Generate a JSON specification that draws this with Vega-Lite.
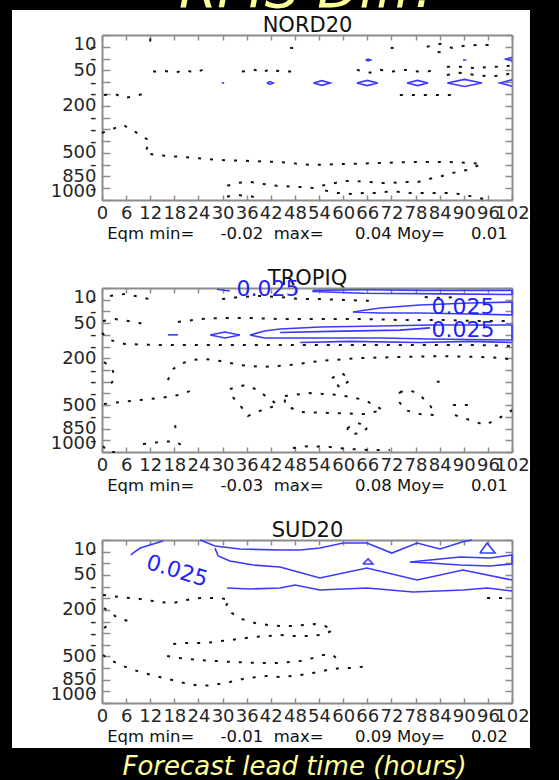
{
  "$schema": "https://vega.github.io/schema/vega-lite/v6.json",
  "width": 518,
  "height": 738,
  "autosize": {"type": "none"},
  "padding": {"left": 12, "top": 10, "right": 29, "bottom": 32},
  "background": "#000000",
  "view": {"fill": "#ffffff", "stroke": null},
  "datasets": {
    "iso": [
      {"p":"N","c":"n1","k":"d","h":12,"l":0.3},{"p":"N","c":"n1","k":"d","h":12,"l":0.8},{"p":"N","c":"n1","k":"d","h":12.3,"l":1.2},
      {"p":"N","c":"n2","k":"d","h":80.8,"l":1.0},{"p":"N","c":"n2","k":"d","h":84.1,"l":0.75},{"p":"N","c":"n2","k":"d","h":87.1,"l":1.1},{"p":"N","c":"n2","k":"d","h":90.3,"l":0.9},{"p":"N","c":"n2","k":"d","h":93.5,"l":0.85},{"p":"N","c":"n2","k":"d","h":96.5,"l":0.85},
      {"p":"N","c":"n2b","k":"d","h":83.5,"l":1.45},{"p":"N","c":"n2b","k":"d","h":86.5,"l":1.5},
      {"p":"N","c":"n3","k":"d","h":46.8,"l":1.1},{"p":"N","c":"n3","k":"d","h":48.6,"l":1.1},
      {"p":"N","c":"n4","k":"d","h":71.8,"l":1.1},{"p":"N","c":"n4","k":"d","h":73.8,"l":1.1},
      {"p":"N","c":"n5","k":"d","h":12.7,"l":3.1},{"p":"N","c":"n5","k":"d","h":15.7,"l":3.05},{"p":"N","c":"n5","k":"d","h":18.2,"l":3.2},{"p":"N","c":"n5","k":"d","h":20.6,"l":2.96},{"p":"N","c":"n5","k":"d","h":23.1,"l":3.2},{"p":"N","c":"n5","k":"d","h":25.6,"l":2.88},{"p":"N","c":"n5","k":"d","h":26.9,"l":3.1},
      {"p":"N","c":"n6","k":"d","h":34.8,"l":3.1},{"p":"N","c":"n6","k":"d","h":38,"l":2.96},{"p":"N","c":"n6","k":"d","h":39.8,"l":3.2},{"p":"N","c":"n6","k":"d","h":41.8,"l":2.88},{"p":"N","c":"n6","k":"d","h":44.3,"l":3.1},{"p":"N","c":"n6","k":"d","h":47.5,"l":3.1},
      {"p":"N","c":"n7","k":"d","h":63.4,"l":2.96},{"p":"N","c":"n7","k":"d","h":66.7,"l":3.2},{"p":"N","c":"n7","k":"d","h":69.2,"l":2.96},{"p":"N","c":"n7","k":"d","h":72.1,"l":3.1},{"p":"N","c":"n7","k":"d","h":75.4,"l":2.96},{"p":"N","c":"n7","k":"d","h":78.6,"l":3.1},{"p":"N","c":"n7","k":"d","h":82.3,"l":3.05},
      {"p":"N","c":"n8","k":"d","h":85.8,"l":2.7},{"p":"N","c":"n8","k":"d","h":89.1,"l":2.7},{"p":"N","c":"n8","k":"d","h":92.8,"l":2.8},{"p":"N","c":"n8","k":"d","h":96.5,"l":2.7},{"p":"N","c":"n8","k":"d","h":100.2,"l":2.7},{"p":"N","c":"n8","k":"d","h":102,"l":2.55},
      {"p":"N","c":"n9","k":"d","h":85.8,"l":3.4},{"p":"N","c":"n9","k":"d","h":89.1,"l":3.2},{"p":"N","c":"n9","k":"d","h":92.8,"l":3.4},{"p":"N","c":"n9","k":"d","h":96.5,"l":3.5},{"p":"N","c":"n9","k":"d","h":100.2,"l":3.4},{"p":"N","c":"n9","k":"d","h":102,"l":3.2},
      {"p":"N","c":"n10","k":"d","h":74.1,"l":5.1},{"p":"N","c":"n10","k":"d","h":77.4,"l":5.1},{"p":"N","c":"n10","k":"d","h":80.3,"l":5.1},{"p":"N","c":"n10","k":"d","h":84.1,"l":5.1},{"p":"N","c":"n10","k":"d","h":87.3,"l":5.1},
      {"p":"N","c":"n11","k":"d","h":0.5,"l":5.1},{"p":"N","c":"n11","k":"d","h":3.2,"l":5.0},{"p":"N","c":"n11","k":"d","h":5.7,"l":5.35},{"p":"N","c":"n11","k":"d","h":7.7,"l":5.2},{"p":"N","c":"n11","k":"d","h":10.2,"l":5.0},
      {"p":"N","c":"n12","k":"d","h":0,"l":8.31},{"p":"N","c":"n12","k":"d","h":2,"l":8.06},{"p":"N","c":"n12","k":"d","h":5.2,"l":7.63},{"p":"N","c":"n12","k":"d","h":7.5,"l":8.06},{"p":"N","c":"n12","k":"d","h":9.5,"l":8.48},{"p":"N","c":"n12","k":"d","h":11.9,"l":8.99},{"p":"N","c":"n12","k":"d","h":11.2,"l":9.58},{"p":"N","c":"n12","k":"d","h":10.7,"l":10.0},{"p":"N","c":"n12","k":"d","h":13.2,"l":10.18},{"p":"N","c":"n12","k":"d","h":16.4,"l":10.26},{"p":"N","c":"n12","k":"d","h":19.9,"l":10.35},{"p":"N","c":"n12","k":"d","h":28.6,"l":10.6},{"p":"N","c":"n12","k":"d","h":36.8,"l":10.69},{"p":"N","c":"n12","k":"d","h":43.5,"l":10.77},{"p":"N","c":"n12","k":"d","h":52.5,"l":11.03},{"p":"N","c":"n12","k":"d","h":60.9,"l":10.94},{"p":"N","c":"n12","k":"d","h":69.2,"l":10.86},{"p":"N","c":"n12","k":"d","h":77.4,"l":10.77},{"p":"N","c":"n12","k":"d","h":85.8,"l":10.77},{"p":"N","c":"n12","k":"d","h":91.5,"l":10.86},{"p":"N","c":"n12","k":"d","h":94.5,"l":10.94},{"p":"N","c":"n12","k":"d","h":90.8,"l":11.45},{"p":"N","c":"n12","k":"d","h":87.3,"l":11.7},{"p":"N","c":"n12","k":"d","h":84.6,"l":11.96},{"p":"N","c":"n12","k":"d","h":81.6,"l":12.2},{"p":"N","c":"n12","k":"d","h":78.6,"l":12.47},{"p":"N","c":"n12","k":"d","h":75.4,"l":12.47},{"p":"N","c":"n12","k":"d","h":72.1,"l":12.55},{"p":"N","c":"n12","k":"d","h":69.2,"l":12.55},{"p":"N","c":"n12","k":"d","h":66.2,"l":12.47},{"p":"N","c":"n12","k":"d","h":62.9,"l":12.38},{"p":"N","c":"n12","k":"d","h":60.4,"l":12.38},{"p":"N","c":"n12","k":"d","h":58,"l":12.55},{"p":"N","c":"n12","k":"d","h":55.5,"l":12.72},{"p":"N","c":"n12","k":"d","h":52.5,"l":12.98},{"p":"N","c":"n12","k":"d","h":49.3,"l":12.9},{"p":"N","c":"n12","k":"d","h":43.5,"l":12.8},{"p":"N","c":"n12","k":"d","h":40,"l":12.64},{"p":"N","c":"n12","k":"d","h":36.8,"l":12.47},{"p":"N","c":"n12","k":"d","h":33.6,"l":12.55},{"p":"N","c":"n12","k":"d","h":31.1,"l":12.8},{"p":"N","c":"n12","k":"d","h":30.1,"l":13.2},
      {"p":"N","c":"n13","k":"d","h":31.1,"l":13.7},{"p":"N","c":"n13","k":"d","h":34.3,"l":13.6},{"p":"N","c":"n13","k":"d","h":37.3,"l":13.7},{"p":"N","c":"n13","k":"d","h":39.8,"l":14.0},
      {"p":"N","c":"n14","k":"d","h":55.5,"l":13.2},{"p":"N","c":"n14","k":"d","h":58.7,"l":13.4},{"p":"N","c":"n14","k":"d","h":62.2,"l":13.5},{"p":"N","c":"n14","k":"d","h":64.9,"l":13.4},{"p":"N","c":"n14","k":"d","h":67.9,"l":13.4},{"p":"N","c":"n14","k":"d","h":70.9,"l":13.3},{"p":"N","c":"n14","k":"d","h":73.6,"l":13.3},{"p":"N","c":"n14","k":"d","h":76.6,"l":13.4},{"p":"N","c":"n14","k":"d","h":79.6,"l":13.4},{"p":"N","c":"n14","k":"d","h":82.8,"l":13.4},{"p":"N","c":"n14","k":"d","h":85.8,"l":13.4},{"p":"N","c":"n14","k":"d","h":89.1,"l":13.5},{"p":"N","c":"n14","k":"d","h":92,"l":13.7},{"p":"N","c":"n14","k":"d","h":94.8,"l":13.9},{"p":"N","c":"n14","k":"d","h":97,"l":14},

      {"p":"N","c":"e1","k":"b","h":52.6,"l":4.07},{"p":"N","c":"e1","k":"b","h":54.7,"l":3.87},{"p":"N","c":"e1","k":"b","h":56.8,"l":4.07},{"p":"N","c":"e1","k":"b","h":54.7,"l":4.27},{"p":"N","c":"e1","k":"b","h":52.6,"l":4.07},
      {"p":"N","c":"e2","k":"b","h":63.4,"l":4.07},{"p":"N","c":"e2","k":"b","h":66,"l":3.85},{"p":"N","c":"e2","k":"b","h":68.6,"l":4.07},{"p":"N","c":"e2","k":"b","h":66,"l":4.29},{"p":"N","c":"e2","k":"b","h":63.4,"l":4.07},
      {"p":"N","c":"e3","k":"b","h":75.9,"l":4.07},{"p":"N","c":"e3","k":"b","h":78.5,"l":3.85},{"p":"N","c":"e3","k":"b","h":81.1,"l":4.07},{"p":"N","c":"e3","k":"b","h":78.5,"l":4.29},{"p":"N","c":"e3","k":"b","h":75.9,"l":4.07},
      {"p":"N","c":"e4","k":"b","h":85.9,"l":4.07},{"p":"N","c":"e4","k":"b","h":90.2,"l":3.77},{"p":"N","c":"e4","k":"b","h":94.5,"l":4.07},{"p":"N","c":"e4","k":"b","h":90.2,"l":4.37},{"p":"N","c":"e4","k":"b","h":85.9,"l":4.07},
      {"p":"N","c":"e5","k":"b","h":102,"l":3.8},{"p":"N","c":"e5","k":"b","h":99,"l":4.07},{"p":"N","c":"e5","k":"b","h":102,"l":4.34},
      {"p":"N","c":"e6","k":"b","h":41,"l":4.07},{"p":"N","c":"e6","k":"b","h":41.8,"l":3.95},{"p":"N","c":"e6","k":"b","h":42.6,"l":4.07},{"p":"N","c":"e6","k":"b","h":41.8,"l":4.19},{"p":"N","c":"e6","k":"b","h":41,"l":4.07},
      {"p":"N","c":"e7","k":"b","h":29.8,"l":4.07},{"p":"N","c":"e7","k":"b","h":30.4,"l":4.07},
      {"p":"N","c":"e8","k":"b","h":65.6,"l":2.12},{"p":"N","c":"e8","k":"b","h":66.2,"l":2.05},{"p":"N","c":"e8","k":"b","h":66.8,"l":2.12},{"p":"N","c":"e8","k":"b","h":66.2,"l":2.19},{"p":"N","c":"e8","k":"b","h":65.6,"l":2.12},
      {"p":"N","c":"e9","k":"b","h":89.8,"l":2.12},{"p":"N","c":"e9","k":"b","h":90.6,"l":2.12},
      {"p":"N","c":"e10","k":"b","h":102,"l":1.9},{"p":"N","c":"e10","k":"b","h":100.5,"l":2.04},{"p":"N","c":"e10","k":"b","h":102,"l":2.2},

      {"p":"T","c":"t0","k":"b","h":28.6,"l":0.1},{"p":"T","c":"t0","k":"b","h":31.8,"l":0.25},
      {"p":"T","c":"t1","k":"b","h":52.5,"l":0.2},{"p":"T","c":"t1","k":"b","h":65,"l":0.15},{"p":"T","c":"t1","k":"b","h":80,"l":0.2},{"p":"T","c":"t1","k":"b","h":102,"l":0.2},{"p":"T","c":"t1","k":"b","h":102,"l":0.55},{"p":"T","c":"t1","k":"b","h":85,"l":0.5},{"p":"T","c":"t1","k":"b","h":65,"l":0.45},{"p":"T","c":"t1","k":"b","h":52.5,"l":0.3},{"p":"T","c":"t1","k":"b","h":52.5,"l":0.2},
      {"p":"T","c":"t2","k":"b","h":62.4,"l":2.05},{"p":"T","c":"t2","k":"b","h":69.2,"l":1.71},{"p":"T","c":"t2","k":"b","h":79.1,"l":1.45},{"p":"T","c":"t2","k":"b","h":91.5,"l":1.28},{"p":"T","c":"t2","k":"b","h":102,"l":1.2},{"p":"T","c":"t2","k":"b","h":102,"l":2.3},{"p":"T","c":"t2","k":"b","h":91.5,"l":2.22},{"p":"T","c":"t2","k":"b","h":79.1,"l":2.13},{"p":"T","c":"t2","k":"b","h":69.2,"l":2.13},{"p":"T","c":"t2","k":"b","h":62.4,"l":2.05},
      {"p":"T","c":"t3","k":"b","h":16.4,"l":4.0},{"p":"T","c":"t3","k":"b","h":18.9,"l":4.0},
      {"p":"T","c":"t4","k":"b","h":26.9,"l":4.01},{"p":"T","c":"t4","k":"b","h":30.6,"l":3.76},{"p":"T","c":"t4","k":"b","h":34.3,"l":4.01},{"p":"T","c":"t4","k":"b","h":30.6,"l":4.27},{"p":"T","c":"t4","k":"b","h":26.9,"l":4.01},
      {"p":"T","c":"t5","k":"b","h":36.8,"l":4.01},{"p":"T","c":"t5","k":"b","h":40.5,"l":3.67},{"p":"T","c":"t5","k":"b","h":44.3,"l":3.5},{"p":"T","c":"t5","k":"b","h":54.2,"l":3.33},{"p":"T","c":"t5","k":"b","h":69.2,"l":3.25},{"p":"T","c":"t5","k":"b","h":81.6,"l":3.16},{"p":"T","c":"t5","k":"b","h":102,"l":3.16},{"p":"T","c":"t5","k":"b","h":102,"l":4.44},{"p":"T","c":"t5","k":"b","h":81.6,"l":4.36},{"p":"T","c":"t5","k":"b","h":69.2,"l":4.27},{"p":"T","c":"t5","k":"b","h":54.2,"l":4.27},{"p":"T","c":"t5","k":"b","h":44.3,"l":4.27},{"p":"T","c":"t5","k":"b","h":40.5,"l":4.27},{"p":"T","c":"t5","k":"b","h":36.8,"l":4.01},
      {"p":"T","c":"t6","k":"b","h":49.3,"l":4.65},{"p":"T","c":"t6","k":"b","h":61.7,"l":4.56},{"p":"T","c":"t6","k":"b","h":79.1,"l":4.65},{"p":"T","c":"t6","k":"b","h":91.5,"l":4.56},{"p":"T","c":"t6","k":"b","h":102,"l":4.65},
      {"p":"T","c":"t7","k":"b","h":44.3,"l":3.8},{"p":"T","c":"t7","k":"b","h":56.7,"l":3.7},{"p":"T","c":"t7","k":"b","h":74.1,"l":3.6},{"p":"T","c":"t7","k":"b","h":81.6,"l":3.4},

      {"p":"T","c":"d1","k":"d","h":2,"l":0.68},{"p":"T","c":"d1","k":"d","h":5.7,"l":0.51},{"p":"T","c":"d1","k":"d","h":9.5,"l":0.77},{"p":"T","c":"d1","k":"d","h":12.7,"l":1.02},
      {"p":"T","c":"d2","k":"d","h":29.9,"l":0.94},{"p":"T","c":"d2","k":"d","h":34.3,"l":0.77},{"p":"T","c":"d2","k":"d","h":39.3,"l":0.68},{"p":"T","c":"d2","k":"d","h":44.3,"l":0.77},{"p":"T","c":"d2","k":"d","h":49.3,"l":0.94},{"p":"T","c":"d2","k":"d","h":54.2,"l":0.94},{"p":"T","c":"d2","k":"d","h":60.4,"l":1.02},{"p":"T","c":"d2","k":"d","h":67.4,"l":1.11},
      {"p":"T","c":"d2b","k":"d","h":80.3,"l":0.77},{"p":"T","c":"d2b","k":"d","h":84.1,"l":0.85},{"p":"T","c":"d2b","k":"d","h":87.8,"l":0.77},
      {"p":"T","c":"d3a","k":"d","h":0.25,"l":2.82},{"p":"T","c":"d3a","k":"d","h":3.2,"l":2.65},{"p":"T","c":"d3a","k":"d","h":6.5,"l":2.82},{"p":"T","c":"d3a","k":"d","h":9.5,"l":3.0},{"p":"T","c":"d3a","k":"d","h":11.9,"l":3.25},
      {"p":"T","c":"d3b","k":"d","h":18.9,"l":2.9},{"p":"T","c":"d3b","k":"d","h":24.4,"l":2.65},{"p":"T","c":"d3b","k":"d","h":29.4,"l":2.56},{"p":"T","c":"d3b","k":"d","h":36.8,"l":2.56},{"p":"T","c":"d3b","k":"d","h":44.3,"l":2.65},{"p":"T","c":"d3b","k":"d","h":54.2,"l":2.65},{"p":"T","c":"d3b","k":"d","h":64.2,"l":2.65},{"p":"T","c":"d3b","k":"d","h":74.1,"l":2.73},{"p":"T","c":"d3b","k":"d","h":84.1,"l":2.73},{"p":"T","c":"d3b","k":"d","h":94,"l":2.82},{"p":"T","c":"d3b","k":"d","h":102,"l":2.82},
      {"p":"T","c":"d4","k":"d","h":0,"l":3.84},{"p":"T","c":"d4","k":"d","h":2,"l":4.44},{"p":"T","c":"d4","k":"d","h":5.7,"l":4.78},{"p":"T","c":"d4","k":"d","h":14.4,"l":4.87},{"p":"T","c":"d4","k":"d","h":24.4,"l":4.87},{"p":"T","c":"d4","k":"d","h":34.3,"l":4.87},{"p":"T","c":"d4","k":"d","h":44.3,"l":4.87},{"p":"T","c":"d4","k":"d","h":54.2,"l":4.87},{"p":"T","c":"d4","k":"d","h":64.2,"l":4.87},{"p":"T","c":"d4","k":"d","h":74.1,"l":4.87},{"p":"T","c":"d4","k":"d","h":84.1,"l":4.87},{"p":"T","c":"d4","k":"d","h":94,"l":4.87},{"p":"T","c":"d4","k":"d","h":102,"l":4.95},
      {"p":"T","c":"d5","k":"d","h":16.4,"l":7.86},{"p":"T","c":"d5","k":"d","h":17.4,"l":7.0},{"p":"T","c":"d5","k":"d","h":19.4,"l":6.49},{"p":"T","c":"d5","k":"d","h":22.4,"l":6.15},{"p":"T","c":"d5","k":"d","h":25.6,"l":6.06},{"p":"T","c":"d5","k":"d","h":29.4,"l":6.23},{"p":"T","c":"d5","k":"d","h":34.3,"l":6.57},{"p":"T","c":"d5","k":"d","h":39.8,"l":6.75},{"p":"T","c":"d5","k":"d","h":46.8,"l":6.57},{"p":"T","c":"d5","k":"d","h":54.2,"l":6.23},{"p":"T","c":"d5","k":"d","h":64.2,"l":5.98},{"p":"T","c":"d5","k":"d","h":74.1,"l":5.89},{"p":"T","c":"d5","k":"d","h":84.1,"l":5.81},{"p":"T","c":"d5","k":"d","h":94,"l":5.89},{"p":"T","c":"d5","k":"d","h":100.2,"l":5.98},{"p":"T","c":"d5","k":"d","h":102,"l":6.23},
      {"p":"T","c":"d6","k":"d","h":0.5,"l":6.32},{"p":"T","c":"d6","k":"d","h":2.5,"l":6.83},{"p":"T","c":"d6","k":"d","h":3.2,"l":7.69},{"p":"T","c":"d6","k":"d","h":2,"l":8.28},
      {"p":"T","c":"d7","k":"d","h":0.5,"l":9.9},{"p":"T","c":"d7","k":"d","h":4.5,"l":9.74},{"p":"T","c":"d7","k":"d","h":9.5,"l":9.57},{"p":"T","c":"d7","k":"d","h":14.4,"l":9.39},{"p":"T","c":"d7","k":"d","h":18.9,"l":9.14},{"p":"T","c":"d7","k":"d","h":21.9,"l":8.8},
      {"p":"T","c":"d8","k":"d","h":31.8,"l":8.62},{"p":"T","c":"d8","k":"d","h":35.6,"l":8.28},{"p":"T","c":"d8","k":"d","h":38.8,"l":8.71},{"p":"T","c":"d8","k":"d","h":41.3,"l":9.39},{"p":"T","c":"d8","k":"d","h":43.8,"l":9.99},{"p":"T","c":"d8","k":"d","h":39.8,"l":10.42},{"p":"T","c":"d8","k":"d","h":36.3,"l":10.93},{"p":"T","c":"d8","k":"d","h":34.3,"l":9.99},{"p":"T","c":"d8","k":"d","h":32.3,"l":9.22},{"p":"T","c":"d8","k":"d","h":31.8,"l":8.62},
      {"p":"T","c":"d9","k":"d","h":45.5,"l":9.22},{"p":"T","c":"d9","k":"d","h":51.7,"l":8.97},{"p":"T","c":"d9","k":"d","h":59.2,"l":9.14},{"p":"T","c":"d9","k":"d","h":65.4,"l":9.56},{"p":"T","c":"d9","k":"d","h":69.9,"l":10.42},{"p":"T","c":"d9","k":"d","h":65.4,"l":10.76},{"p":"T","c":"d9","k":"d","h":56.7,"l":10.67},{"p":"T","c":"d9","k":"d","h":49.3,"l":10.59},{"p":"T","c":"d9","k":"d","h":45.5,"l":9.99},{"p":"T","c":"d9","k":"d","h":45.5,"l":9.22},
      {"p":"T","c":"d10","k":"d","h":57.2,"l":7.69},{"p":"T","c":"d10","k":"d","h":59.7,"l":7.26},{"p":"T","c":"d10","k":"d","h":61.7,"l":7.86},{"p":"T","c":"d10","k":"d","h":59.2,"l":8.54},{"p":"T","c":"d10","k":"d","h":57.2,"l":7.69},
      {"p":"T","c":"d11","k":"d","h":74.1,"l":8.88},{"p":"T","c":"d11","k":"d","h":76.6,"l":8.71},{"p":"T","c":"d11","k":"d","h":79.1,"l":9.14},{"p":"T","c":"d11","k":"d","h":81.6,"l":9.99},{"p":"T","c":"d11","k":"d","h":82.8,"l":10.85},{"p":"T","c":"d11","k":"d","h":79.1,"l":10.76},{"p":"T","c":"d11","k":"d","h":75.4,"l":10.42},{"p":"T","c":"d11","k":"d","h":73.6,"l":9.56},{"p":"T","c":"d11","k":"d","h":74.1,"l":8.88},
      {"p":"T","c":"d12","k":"d","h":83.3,"l":8.0},{"p":"T","c":"d12","k":"d","h":84,"l":8.0},
      {"p":"T","c":"d13","k":"d","h":87.3,"l":9.99},{"p":"T","c":"d13","k":"d","h":91,"l":9.99},
      {"p":"T","c":"d14","k":"d","h":87.8,"l":10.85},{"p":"T","c":"d14","k":"d","h":91.5,"l":11.27},{"p":"T","c":"d14","k":"d","h":95.3,"l":11.7},{"p":"T","c":"d14","k":"d","h":97.8,"l":11.27},{"p":"T","c":"d14","k":"d","h":100.2,"l":10.85},{"p":"T","c":"d14","k":"d","h":102,"l":10.42},
      {"p":"T","c":"d15","k":"d","h":10.2,"l":13.32},{"p":"T","c":"d15","k":"d","h":14.4,"l":13.15},{"p":"T","c":"d15","k":"d","h":18.2,"l":13.07},{"p":"T","c":"d15","k":"d","h":20.1,"l":13.49},
      {"p":"T","c":"d16","k":"d","h":18.2,"l":11.7},{"p":"T","c":"d16","k":"d","h":18.4,"l":12.3},
      {"p":"T","c":"d17","k":"d","h":47.5,"l":13.66},{"p":"T","c":"d17","k":"d","h":51.7,"l":13.49},{"p":"T","c":"d17","k":"d","h":56.7,"l":13.58},{"p":"T","c":"d17","k":"d","h":61.7,"l":13.75},{"p":"T","c":"d17","k":"d","h":66.7,"l":13.83},{"p":"T","c":"d17","k":"d","h":71.6,"l":13.83},
      {"p":"T","c":"d18","k":"d","h":61,"l":11.96},{"p":"T","c":"d18","k":"d","h":63.7,"l":11.53},{"p":"T","c":"d18","k":"d","h":66.2,"l":11.87},{"p":"T","c":"d18","k":"d","h":64.7,"l":12.38},{"p":"T","c":"d18","k":"d","h":61.7,"l":12.47},{"p":"T","c":"d18","k":"d","h":61,"l":11.96},
      {"p":"T","c":"d19","k":"d","h":0.25,"l":13.49},{"p":"T","c":"d19","k":"d","h":1.5,"l":14},{"p":"T","c":"d19","k":"d","h":3.2,"l":14},

      {"p":"S","c":"s1","k":"b","h":7.2,"l":1.3},{"p":"S","c":"s1","k":"b","h":7.7,"l":1.12},{"p":"S","c":"s1","k":"b","h":9.5,"l":0.69},{"p":"S","c":"s1","k":"b","h":11.9,"l":0.43},{"p":"S","c":"s1","k":"b","h":15.2,"l":0.09},
      {"p":"S","c":"s2","k":"b","h":24.4,"l":0},{"p":"S","c":"s2","k":"b","h":28.1,"l":0.52},{"p":"S","c":"s2","k":"b","h":34.3,"l":0.77},{"p":"S","c":"s2","k":"b","h":44.3,"l":0.86},{"p":"S","c":"s2","k":"b","h":49.3,"l":0.86},{"p":"S","c":"s2","k":"b","h":54.2,"l":0.69},{"p":"S","c":"s2","k":"b","h":60,"l":0.26},{"p":"S","c":"s2","k":"b","h":65.9,"l":0.26},{"p":"S","c":"s2","k":"b","h":72.1,"l":1.12},{"p":"S","c":"s2","k":"b","h":78.4,"l":0.26},{"p":"S","c":"s2","k":"b","h":84.1,"l":0.77},{"p":"S","c":"s2","k":"b","h":89.6,"l":0.17},{"p":"S","c":"s2","k":"b","h":92,"l":0},
      {"p":"S","c":"s3","k":"b","h":28.1,"l":0.7},{"p":"S","c":"s3","k":"b","h":28.9,"l":1.37},{"p":"S","c":"s3","k":"b","h":31.8,"l":1.8},{"p":"S","c":"s3","k":"b","h":37.6,"l":2.15},{"p":"S","c":"s3","k":"b","h":44.3,"l":2.32},{"p":"S","c":"s3","k":"b","h":54.2,"l":3.26},{"p":"S","c":"s3","k":"b","h":65.9,"l":2.41},{"p":"S","c":"s3","k":"b","h":78.4,"l":3.44},{"p":"S","c":"s3","k":"b","h":89.8,"l":2.58},{"p":"S","c":"s3","k":"b","h":102,"l":3.44},
      {"p":"S","c":"s4","k":"b","h":31.1,"l":4.12},{"p":"S","c":"s4","k":"b","h":36.8,"l":4.21},{"p":"S","c":"s4","k":"b","h":44.3,"l":4.12},{"p":"S","c":"s4","k":"b","h":48,"l":3.87},{"p":"S","c":"s4","k":"b","h":54.2,"l":4.3},{"p":"S","c":"s4","k":"b","h":65.9,"l":4.12},{"p":"S","c":"s4","k":"b","h":77.4,"l":4.47},{"p":"S","c":"s4","k":"b","h":89.8,"l":4.3},{"p":"S","c":"s4","k":"b","h":95.8,"l":4.12},{"p":"S","c":"s4","k":"b","h":102,"l":4.38},
      {"p":"S","c":"s5","k":"b","h":94,"l":1.12},{"p":"S","c":"s5","k":"b","h":95.8,"l":0.26},{"p":"S","c":"s5","k":"b","h":97.8,"l":1.12},{"p":"S","c":"s5","k":"b","h":94,"l":1.12},
      {"p":"S","c":"s6","k":"b","h":64.9,"l":2.06},{"p":"S","c":"s6","k":"b","h":66.2,"l":1.63},{"p":"S","c":"s6","k":"b","h":67.4,"l":2.06},{"p":"S","c":"s6","k":"b","h":64.9,"l":2.06},
      {"p":"S","c":"s7","k":"b","h":76.6,"l":1.89},{"p":"S","c":"s7","k":"b","h":81.6,"l":1.72},{"p":"S","c":"s7","k":"b","h":89.1,"l":1.46},{"p":"S","c":"s7","k":"b","h":96.5,"l":1.55},{"p":"S","c":"s7","k":"b","h":102,"l":1.29},{"p":"S","c":"s7","k":"b","h":102,"l":2.06},{"p":"S","c":"s7","k":"b","h":96.5,"l":2.23},{"p":"S","c":"s7","k":"b","h":89.1,"l":2.15},{"p":"S","c":"s7","k":"b","h":81.6,"l":1.98},{"p":"S","c":"s7","k":"b","h":76.6,"l":1.89},

      {"p":"S","c":"q1","k":"d","h":0.25,"l":4.72},{"p":"S","c":"q1","k":"d","h":4.5,"l":4.9},{"p":"S","c":"q1","k":"d","h":9.5,"l":5.07},{"p":"S","c":"q1","k":"d","h":14.4,"l":5.33},{"p":"S","c":"q1","k":"d","h":17.7,"l":5.41},{"p":"S","c":"q1","k":"d","h":21.1,"l":5.15},{"p":"S","c":"q1","k":"d","h":24.4,"l":4.98},{"p":"S","c":"q1","k":"d","h":29.4,"l":4.98},{"p":"S","c":"q1","k":"d","h":31.8,"l":5.15},{"p":"S","c":"q1","k":"d","h":30.8,"l":5.67},{"p":"S","c":"q1","k":"d","h":32.3,"l":6.27},{"p":"S","c":"q1","k":"d","h":34.8,"l":6.79},{"p":"S","c":"q1","k":"d","h":38.1,"l":7.13},{"p":"S","c":"q1","k":"d","h":41.3,"l":7.3},{"p":"S","c":"q1","k":"d","h":44.3,"l":7.39},{"p":"S","c":"q1","k":"d","h":47.3,"l":7.39},{"p":"S","c":"q1","k":"d","h":50.5,"l":7.3},{"p":"S","c":"q1","k":"d","h":53,"l":7.22},{"p":"S","c":"q1","k":"d","h":55.5,"l":7.39},{"p":"S","c":"q1","k":"d","h":57.5,"l":7.73},{"p":"S","c":"q1","k":"d","h":55.5,"l":8.08},{"p":"S","c":"q1","k":"d","h":52.2,"l":8.25},{"p":"S","c":"q1","k":"d","h":48,"l":8.25},{"p":"S","c":"q1","k":"d","h":44.3,"l":8.16},{"p":"S","c":"q1","k":"d","h":38.1,"l":8.33},{"p":"S","c":"q1","k":"d","h":31.8,"l":8.59},{"p":"S","c":"q1","k":"d","h":25.6,"l":8.85},{"p":"S","c":"q1","k":"d","h":20.6,"l":8.85},{"p":"S","c":"q1","k":"d","h":17.4,"l":8.93},{"p":"S","c":"q1","k":"d","h":16.2,"l":9.28},
      {"p":"S","c":"q2","k":"d","h":0.5,"l":5.84},{"p":"S","c":"q2","k":"d","h":2.5,"l":6.36},{"p":"S","c":"q2","k":"d","h":4,"l":6.7},{"p":"S","c":"q2","k":"d","h":6.5,"l":6.96},
      {"p":"S","c":"q2b","k":"d","h":0.5,"l":7.56},{"p":"S","c":"q2b","k":"d","h":2,"l":7.22},
      {"p":"S","c":"q4","k":"d","h":16.2,"l":9.97},{"p":"S","c":"q4","k":"d","h":19.4,"l":10.14},{"p":"S","c":"q4","k":"d","h":24.4,"l":10.31},{"p":"S","c":"q4","k":"d","h":32.6,"l":10.48},{"p":"S","c":"q4","k":"d","h":40,"l":10.57},{"p":"S","c":"q4","k":"d","h":44.3,"l":10.57},{"p":"S","c":"q4","k":"d","h":49.3,"l":10.39},{"p":"S","c":"q4","k":"d","h":52.5,"l":10.14},{"p":"S","c":"q4","k":"d","h":55,"l":9.88},{"p":"S","c":"q4","k":"d","h":57.5,"l":9.88},{"p":"S","c":"q4","k":"d","h":58.7,"l":10.31},
      {"p":"S","c":"q5","k":"d","h":0.25,"l":9.88},{"p":"S","c":"q5","k":"d","h":2,"l":10.31},{"p":"S","c":"q5","k":"d","h":5.2,"l":10.82},{"p":"S","c":"q5","k":"d","h":9.5,"l":11.34},{"p":"S","c":"q5","k":"d","h":14.4,"l":11.77},{"p":"S","c":"q5","k":"d","h":19.4,"l":12.2},{"p":"S","c":"q5","k":"d","h":24.4,"l":12.54},{"p":"S","c":"q5","k":"d","h":27.6,"l":12.46},{"p":"S","c":"q5","k":"d","h":31.8,"l":12.2},{"p":"S","c":"q5","k":"d","h":36.1,"l":11.86},{"p":"S","c":"q5","k":"d","h":41,"l":11.68},{"p":"S","c":"q5","k":"d","h":44.3,"l":11.77},{"p":"S","c":"q5","k":"d","h":49.3,"l":11.6},{"p":"S","c":"q5","k":"d","h":52.5,"l":11.42},{"p":"S","c":"q5","k":"d","h":56,"l":11.17},{"p":"S","c":"q5","k":"d","h":59.2,"l":11.0},{"p":"S","c":"q5","k":"d","h":62.4,"l":11.0},{"p":"S","c":"q5","k":"d","h":66.2,"l":10.82},
      {"p":"S","c":"q6","k":"d","h":95.8,"l":4.98},{"p":"S","c":"q6","k":"d","h":101.5,"l":4.98}
    ],
    "tags": [
      {"p":"T","h":41.3,"l":0.09,"t":"0.025"},
      {"p":"T","h":89.8,"l":1.62,"t":"0.025"},
      {"p":"T","h":89.8,"l":3.59,"t":"0.025"},
      {"p":"S","h":18.7,"l":2.66,"t":"0.025"}
    ]
  },
  "layer": [
    {
      "layer": [
        {
          "data": {"name": "iso"},
          "transform": [{"filter": "datum.p == 'N' && datum.k == 'd'"}],
          "mark": {"type": "line", "color": "#111111", "strokeWidth": 2, "strokeDash": [3, 9]},
          "encoding": {
            "x": {"field": "h", "type": "quantitative", "scale": {"domain": [0, 102], "range": [90, 500], "nice": false, "zero": false},
              "axis": {"orient": "bottom", "offset": -548, "values": [0,6,12,18,24,30,36,42,48,54,60,66,72,78,84,90,96,102], "tickSize": -5, "labelPadding": 9, "labelFontSize": 18, "labelOverlap": false, "labelFlush": false, "labelBound": false,
                "title": "Eqm min=\u00a0\u00a0\u00a0\u00a0\u00a0-0.02\u00a0\u00a0max=\u00a0\u00a0\u00a0\u00a0\u00a0\u00a00.04\u00a0Moy=\u00a0\u00a0\u00a0\u00a0\u00a00.01", "titleFontSize": 16.5, "titlePadding": 3}},
            "y": {"field": "l", "type": "quantitative", "scale": {"domain": [0, 14], "range": [25, 190], "nice": false, "zero": false},
              "axis": {"orient": "left", "offset": -90, "values": [0,1,2,3,4,5,6,7,8,9,10,11,12,13,14], "tickSize": -8, "labelPadding": 14, "labelFontSize": 18, "labelFlush": true, "labelOverlap": false, "title": null,
                "labelExpr": "datum.value == 0 ? '10' : datum.value == 3 ? '50' : datum.value == 6 ? '200' : datum.value == 10 ? '500' : datum.value == 12 ? '850' : datum.value == 14 ? '1000' : '-'"}},
            "detail": {"field": "c"},
            "order": {"value": null}
          }
        },
        {
          "data": {"name": "iso"},
          "transform": [{"filter": "datum.p == 'N' && datum.k == 'b'"}],
          "mark": {"type": "line", "color": "#3a3aff", "strokeWidth": 1.6},
          "encoding": {
            "x": {"field": "h", "type": "quantitative", "scale": {"domain": [0, 102], "range": [90, 500], "nice": false, "zero": false},
              "axis": {"orient": "top", "offset": -25, "values": [0,6,12,18,24,30,36,42,48,54,60,66,72,78,84,90,96,102], "labels": false, "tickSize": -5, "title": "NORD20", "titleFontSize": 21, "titlePadding": -1}},
            "y": {"field": "l", "type": "quantitative", "scale": {"domain": [0, 14], "range": [25, 190], "nice": false, "zero": false},
              "axis": {"orient": "right", "offset": -18, "values": [0,1,2,3,4,5,6,7,8,9,10,11,12,13,14], "labels": false, "tickSize": -7, "title": null}},
            "detail": {"field": "c"},
            "order": {"value": null}
          }
        }
      ],
      "resolve": {"axis": {"x": "independent", "y": "independent"}}
    },
    {
      "layer": [
        {
          "data": {"name": "iso"},
          "transform": [{"filter": "datum.p == 'T' && datum.k == 'd'"}],
          "mark": {"type": "line", "color": "#111111", "strokeWidth": 2, "strokeDash": [3, 9]},
          "encoding": {
            "x": {"field": "h", "type": "quantitative", "scale": {"domain": [0, 102], "range": [90, 500], "nice": false, "zero": false},
              "axis": {"orient": "bottom", "offset": -296, "values": [0,6,12,18,24,30,36,42,48,54,60,66,72,78,84,90,96,102], "tickSize": -5, "labelPadding": 9, "labelFontSize": 18, "labelOverlap": false, "labelFlush": false, "labelBound": false,
                "title": "Eqm min=\u00a0\u00a0\u00a0\u00a0\u00a0-0.03\u00a0\u00a0max=\u00a0\u00a0\u00a0\u00a0\u00a0\u00a00.08\u00a0Moy=\u00a0\u00a0\u00a0\u00a0\u00a00.01", "titleFontSize": 16.5, "titlePadding": 3}},
            "y": {"field": "l", "type": "quantitative", "scale": {"domain": [0, 14], "range": [278, 442], "nice": false, "zero": false},
              "axis": {"orient": "left", "offset": -90, "values": [0,1,2,3,4,5,6,7,8,9,10,11,12,13,14], "tickSize": -8, "labelPadding": 14, "labelFontSize": 18, "labelFlush": true, "labelOverlap": false, "title": null,
                "labelExpr": "datum.value == 0 ? '10' : datum.value == 3 ? '50' : datum.value == 6 ? '200' : datum.value == 10 ? '500' : datum.value == 12 ? '850' : datum.value == 14 ? '1000' : '-'"}},
            "detail": {"field": "c"},
            "order": {"value": null}
          }
        },
        {
          "data": {"name": "iso"},
          "transform": [{"filter": "datum.p == 'T' && datum.k == 'b'"}],
          "mark": {"type": "line", "color": "#3a3aff", "strokeWidth": 1.6},
          "encoding": {
            "x": {"field": "h", "type": "quantitative", "scale": {"domain": [0, 102], "range": [90, 500], "nice": false, "zero": false},
              "axis": {"orient": "top", "offset": -278, "values": [0,6,12,18,24,30,36,42,48,54,60,66,72,78,84,90,96,102], "labels": false, "tickSize": -5, "title": "TROPIQ", "titleFontSize": 21, "titlePadding": -1}},
            "y": {"field": "l", "type": "quantitative", "scale": {"domain": [0, 14], "range": [278, 442], "nice": false, "zero": false},
              "axis": {"orient": "right", "offset": -18, "values": [0,1,2,3,4,5,6,7,8,9,10,11,12,13,14], "labels": false, "tickSize": -7, "title": null}},
            "detail": {"field": "c"},
            "order": {"value": null}
          }
        },
        {
          "data": {"name": "tags"},
          "transform": [{"filter": "datum.p == 'T'"}],
          "mark": {"type": "text", "font": "DejaVu Sans", "fontSize": 22, "color": "#1f1fff", "align": "center", "baseline": "middle"},
          "encoding": {
            "x": {"field": "h", "type": "quantitative", "scale": {"domain": [0, 102], "range": [90, 500], "nice": false, "zero": false},
              "axis": {"orient": "top", "offset": 0, "labels": false, "ticks": false, "domain": false, "title": "RMS Diff.", "titleColor": "#ffff99", "titleFontStyle": "italic", "titleFontSize": 55, "titlePadding": 4, "titleX": 293, "titleBaseline": "alphabetic"}},
            "y": {"field": "l", "type": "quantitative", "scale": {"domain": [0, 14], "range": [278, 442], "nice": false, "zero": false}, "axis": null},
            "text": {"field": "t"}
          }
        }
      ],
      "resolve": {"axis": {"x": "independent", "y": "independent"}}
    },
    {
      "layer": [
        {
          "data": {"name": "iso"},
          "transform": [{"filter": "datum.p == 'S' && datum.k == 'd'"}],
          "mark": {"type": "line", "color": "#111111", "strokeWidth": 2, "strokeDash": [3, 9]},
          "encoding": {
            "x": {"field": "h", "type": "quantitative", "scale": {"domain": [0, 102], "range": [90, 500], "nice": false, "zero": false},
              "axis": {"orient": "bottom", "offset": -45, "values": [0,6,12,18,24,30,36,42,48,54,60,66,72,78,84,90,96,102], "tickSize": -5, "labelPadding": 9, "labelFontSize": 18, "labelOverlap": false, "labelFlush": false, "labelBound": false,
                "title": "Eqm min=\u00a0\u00a0\u00a0\u00a0\u00a0-0.01\u00a0\u00a0max=\u00a0\u00a0\u00a0\u00a0\u00a0\u00a00.09\u00a0Moy=\u00a0\u00a0\u00a0\u00a0\u00a00.02", "titleFontSize": 16.5, "titlePadding": 3}},
            "y": {"field": "l", "type": "quantitative", "scale": {"domain": [0, 14], "range": [530, 693], "nice": false, "zero": false},
              "axis": {"orient": "left", "offset": -90, "values": [0,1,2,3,4,5,6,7,8,9,10,11,12,13,14], "tickSize": -8, "labelPadding": 14, "labelFontSize": 18, "labelFlush": true, "labelOverlap": false, "title": null,
                "labelExpr": "datum.value == 0 ? '10' : datum.value == 3 ? '50' : datum.value == 6 ? '200' : datum.value == 10 ? '500' : datum.value == 12 ? '850' : datum.value == 14 ? '1000' : '-'"}},
            "detail": {"field": "c"},
            "order": {"value": null}
          }
        },
        {
          "data": {"name": "iso"},
          "transform": [{"filter": "datum.p == 'S' && datum.k == 'b'"}],
          "mark": {"type": "line", "color": "#3a3aff", "strokeWidth": 1.6},
          "encoding": {
            "x": {"field": "h", "type": "quantitative", "scale": {"domain": [0, 102], "range": [90, 500], "nice": false, "zero": false},
              "axis": {"orient": "top", "offset": -530, "values": [0,6,12,18,24,30,36,42,48,54,60,66,72,78,84,90,96,102], "labels": false, "tickSize": -5, "title": "SUD20", "titleFontSize": 21, "titlePadding": -1}},
            "y": {"field": "l", "type": "quantitative", "scale": {"domain": [0, 14], "range": [530, 693], "nice": false, "zero": false},
              "axis": {"orient": "right", "offset": -18, "values": [0,1,2,3,4,5,6,7,8,9,10,11,12,13,14], "labels": false, "tickSize": -7, "title": null}},
            "detail": {"field": "c"},
            "order": {"value": null}
          }
        },
        {
          "data": {"name": "tags"},
          "transform": [{"filter": "datum.p == 'S'"}],
          "mark": {"type": "text", "font": "DejaVu Sans", "fontSize": 22, "color": "#1f1fff", "align": "center", "baseline": "middle", "angle": 17},
          "encoding": {
            "x": {"field": "h", "type": "quantitative", "scale": {"domain": [0, 102], "range": [90, 500], "nice": false, "zero": false},
              "axis": {"orient": "bottom", "offset": 0, "labels": false, "ticks": false, "domain": false, "title": "Forecast lead time (hours)", "titleColor": "#ffff99", "titleFontStyle": "italic", "titleFontSize": 26, "titlePadding": 5, "titleX": 282, "titleBaseline": "top"}},
            "y": {"field": "l", "type": "quantitative", "scale": {"domain": [0, 14], "range": [530, 693], "nice": false, "zero": false}, "axis": null},
            "text": {"field": "t"}
          }
        }
      ],
      "resolve": {"axis": {"x": "independent", "y": "independent"}}
    }
  ],
  "resolve": {"scale": {"y": "independent"}, "axis": {"x": "independent", "y": "independent"}},
  "config": {
    "axis": {
      "grid": false,
      "domainColor": "#8c8c8c",
      "domainWidth": 2,
      "tickColor": "#8c8c8c",
      "tickWidth": 1.5,
      "labelFont": "DejaVu Sans",
      "labelColor": "#262626",
      "titleFont": "DejaVu Sans",
      "titleColor": "#111111",
      "titleFontWeight": "normal"
    },
    "line": {"strokeCap": "butt", "interpolate": "linear"}
  }
}
